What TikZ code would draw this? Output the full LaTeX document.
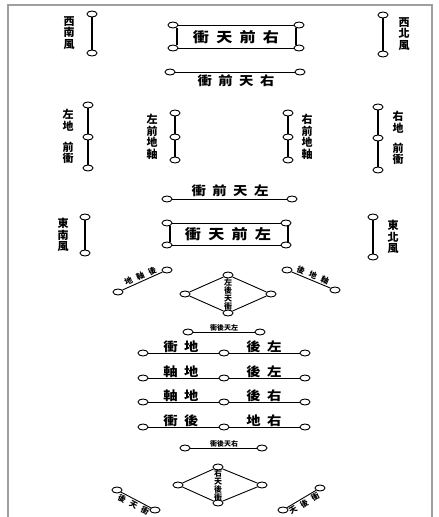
\documentclass[tikz,border=0pt]{standalone}
\usepackage{fontspec}
\newfontfamily\cjk{Noto Sans CJK TC}
\usetikzlibrary{shapes.geometric}
\newcommand{\gp}{\hspace{0.45em}}
\newcommand{\tg}{\hspace{5pt}}

\begin{document}
\begin{tikzpicture}[x=1pt,y=-1pt,
    ring/.style={ellipse,draw,fill=white,line width=0.9pt,minimum width=10pt,minimum height=6pt,inner sep=0pt},
    bar/.style={line width=1.7pt},
    rule/.style={line width=0.9pt},
    big/.style={font=\cjk\bfseries\fontsize{14}{14}\selectfont,inner sep=0pt,xscale=1.15},
    mid/.style={font=\cjk\bfseries\fontsize{12.5}{12.5}\selectfont,inner sep=0pt,xscale=1.15},
    col/.style={font=\cjk\bfseries\fontsize{11}{11.5}\selectfont,align=center,inner sep=0pt},
    small/.style={font=\cjk\bfseries\fontsize{8}{8}\selectfont,align=center,inner sep=0pt},
    tiny/.style={font=\cjk\bfseries\fontsize{7}{8}\selectfont,inner sep=0pt}]
    \useasboundingbox (0,0) rectangle (439,517);
    \draw [gray!75,line width=2pt] (8,517) -- (8,5) -- (432,5) -- (432,517);
    % corner winds
    \node [ring] (sw1) at (92,14) {};
    \node [ring] (sw2) at (92,53) {};
    \draw [bar] (sw1) -- (sw2);
    \node [col] (swt) at (69,33) {西\\南\\風};
    \node [ring] (nw1) at (383,15) {};
    \node [ring] (nw2) at (383,54) {};
    \draw [bar] (nw1) -- (nw2);
    \node [col] (nwt) at (404,34) {西\\北\\風};
    \node [ring] (se1) at (85,217) {};
    \node [ring] (se2) at (85,253) {};
    \draw [bar] (se1) -- (se2);
    \node [col] (set) at (63,235) {東\\南\\風};
    \node [ring] (ne1) at (373,217) {};
    \node [ring] (ne2) at (373,257) {};
    \draw [bar] (ne1) -- (ne2);
    \node [col] (net) at (393,237) {東\\北\\風};
    % front box
    \node [ring] (f1) at (173,25) {};
    \node [ring] (f2) at (299,25) {};
    \node [ring] (f3) at (173,48) {};
    \node [ring] (f4) at (299,48) {};
    \draw [rule] (f1) -- (f2);
    \draw [rule] (f3) -- (f4);
    \draw [bar] ([xshift=4pt]f1.south) -- ([xshift=4pt]f3.north);
    \draw [bar] ([xshift=-3pt]f2.south) -- ([xshift=-3pt]f4.north);
    \node [big] (ft) at (236,37) {衝\gp 天\gp 前\gp 右};
    \node [ring] (r1) at (170,72) {};
    \node [ring] (r2) at (300,72) {};
    \draw [rule] (r1) -- (r2);
    \node [mid] (rt) at (236,81) {衝\gp 前\gp 天\gp 右};
    % flanks
    \node [ring] (la) at (88,105) {};
    \node [ring] (lb) at (88,137) {};
    \node [ring] (lc) at (88,168) {};
    \draw [bar] (la) -- (lb) -- (lc);
    \node [col] (lt1) at (68,120) {左\\地};
    \node [col] (lt2) at (68,153) {前\\衝};
    \node [ring] (ca) at (175,113) {};
    \node [ring] (cb) at (175,137) {};
    \node [ring] (cc) at (175,160) {};
    \draw [bar] (ca) -- (cb) -- (cc);
    \node [col] (ct) at (152,137) {左\\前\\地\\軸};
    \node [ring] (da) at (288,113) {};
    \node [ring] (db) at (288,137) {};
    \node [ring] (dc) at (288,160) {};
    \draw [bar] (da) -- (db) -- (dc);
    \node [col] (dt) at (307,137) {右\\前\\地\\軸};
    \node [ring] (ra) at (378,107) {};
    \node [ring] (rb) at (378,138) {};
    \node [ring] (rc) at (378,170) {};
    \draw [bar] (ra) -- (rb) -- (rc);
    \node [col] (rt1) at (398,122) {右\\地};
    \node [col] (rt2) at (398,154) {前\\衝};
    % left box
    \node [ring] (l1) at (167,199) {};
    \node [ring] (l2) at (292,199) {};
    \draw [rule] (l1) -- (l2);
    \node [mid] (lt) at (230,191) {衝\gp 前\gp 天\gp 左};
    \node [ring] (b1) at (167,223) {};
    \node [ring] (b2) at (286,223) {};
    \node [ring] (b3) at (167,245) {};
    \node [ring] (b4) at (286,245) {};
    \draw [rule] (b1) -- (b2);
    \draw [rule] (b3) -- (b4);
    \draw [bar] ([xshift=3pt]b1.south) -- ([xshift=3pt]b3.north);
    \draw [bar] ([xshift=2pt]b2.south) -- ([xshift=2pt]b4.north);
    \node [big] (bt) at (228,234) {衝\gp 天\gp 前\gp 左};
    % rear diamond
    \node [ring] (tt) at (228,275) {};
    \node [ring] (tl) at (185,294) {};
    \node [ring] (tr) at (271,294) {};
    \node [ring] (tb) at (228,313) {};
    \draw [rule] (tt) -- (tl) -- (tb) -- (tr) -- (tt);
    \node [small] (tdt) at (228,294) {左\\後\\天\\衝};
    \node [ring] (ul1) at (118,292) {};
    \node [ring] (ul2) at (167,270) {};
    \draw [rule] (ul1) -- node [small,sloped,above=1pt] {地\tg 軸\tg 後} (ul2);
    \node [ring] (ur1) at (287,270) {};
    \node [ring] (ur2) at (335,290) {};
    \draw [rule] (ur1) -- node [small,sloped,above=1pt] {後\tg 地\tg 軸} (ur2);
    \node [ring] (s1) at (188,332) {};
    \node [ring] (s2) at (260,332) {};
    \draw [rule] (s1) -- (s2);
    \node [tiny] (st) at (224,328) {衝後天左};
    % rear rows
    \node [ring] (p1) at (143,353) {};
    \node [ring] (p2) at (224,353) {};
    \node [ring] (p3) at (305,353) {};
    \draw [rule] (p1) -- (p2) -- (p3);
    \node [mid] (pa) at (181,347) {衝\gp 地};
    \node [mid] (pb) at (264,347) {後\gp 左};
    \node [ring] (m1) at (143,378) {};
    \node [ring] (m2) at (224,378) {};
    \node [ring] (m3) at (305,378) {};
    \draw [rule] (m1) -- (m2) -- (m3);
    \node [mid] (ma) at (181,372) {軸\gp 地};
    \node [mid] (mb) at (264,372) {後\gp 左};
    \node [ring] (n1) at (143,402) {};
    \node [ring] (n2) at (224,402) {};
    \node [ring] (n3) at (305,402) {};
    \draw [rule] (n1) -- (n2) -- (n3);
    \node [mid] (na) at (181,396) {軸\gp 地};
    \node [mid] (nb) at (264,396) {後\gp 右};
    \node [ring] (k1) at (143,427) {};
    \node [ring] (k2) at (224,427) {};
    \node [ring] (k3) at (305,427) {};
    \draw [rule] (k1) -- (k2) -- (k3);
    \node [mid] (ka) at (181,421) {衝\gp 後};
    \node [mid] (kb) at (264,421) {地\gp 右};
    \node [ring] (q1) at (185,448) {};
    \node [ring] (q2) at (262,448) {};
    \draw [rule] (q1) -- (q2);
    \node [tiny] (qt) at (224,444) {衝後天右};
    % right diamond
    \node [ring] (wt) at (218,467) {};
    \node [ring] (wl) at (178,485) {};
    \node [ring] (wr) at (262,485) {};
    \node [ring] (wb) at (218,503) {};
    \draw [rule] (wt) -- (wl) -- (wb) -- (wr) -- (wt);
    \node [small] (wdt) at (218,485) {右\\天\\後\\衝};
    \node [ring] (vl1) at (117,490) {};
    \node [ring] (vl2) at (155,510) {};
    \draw [rule] (vl1) -- node [small,sloped,below=1pt] {後\tg 天\tg 衝} (vl2);
    \node [ring] (vr1) at (283,510) {};
    \node [ring] (vr2) at (320,488) {};
    \draw [rule] (vr1) -- node [small,sloped,below=1pt] {天\tg 後\tg 衝} (vr2);
\end{tikzpicture}
\end{document}
